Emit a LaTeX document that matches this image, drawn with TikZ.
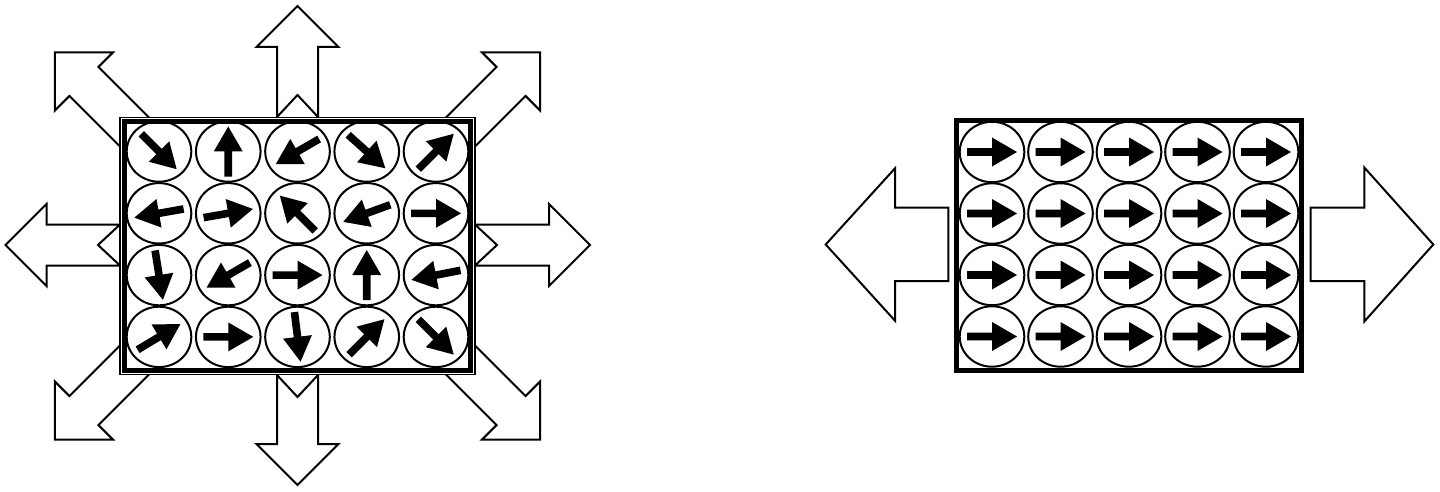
\documentclass[tikz,border=0pt]{standalone}
\begin{document}
\begin{tikzpicture}[x=1pt,y=-1pt,
  outline/.style={draw=black,line width=2pt,fill=white,line join=miter},
  framebox/.style={draw=black,line width=5pt,fill=white},
  thinframe/.style={draw=black,line width=1.4pt,fill=white},
  cell/.style={draw=black,line width=2pt},
  spin/.style={fill=black},
  pics/swallow/.style={code={
     \path[outline] (0,20.5) -- (22,0) -- (0,-20.5) -- (#1-41,-20.5) -- (#1-41,-41)
        -- (#1,0) -- (#1-41,41) -- (#1-41,20.5) -- cycle;}},
  pics/spinarrow/.style={code={
     \path[spin] (-25,3.8) -- (0,3.8) -- (0,14.5) -- (25,0) -- (0,-14.5) -- (0,-3.8)
        -- (-25,-3.8) -- cycle;}}
]
\useasboundingbox (0,0) rectangle (1440,492);

% ---------- left panel: big outlined arrows ----------
\pic (up)    [rotate=90]   at (297.5,117) {swallow=111};
\pic (down)  [rotate=-90]  at (297.5,375) {swallow=110};
\pic (left)  [rotate=180]  at (120,245)   {swallow=114.5};
\pic (right) [rotate=0]    at (475,245)   {swallow=115};
\pic (ul)    [rotate=135]  at (139.8,137.3) {swallow=120};
\pic (ur)    [rotate=45]   at (455.2,137.3) {swallow=120};
\pic (dl)    [rotate=-135] at (139.8,354.7) {swallow=120};
\pic (dr)    [rotate=-45]  at (455.2,354.7) {swallow=120};

% frames
\path[thinframe] (120,117.5) rectangle (475,374.5);
\path[framebox] (124.5,121.5) rectangle (470,370);

% cells with random spins
\foreach \a [count=\k from 0] in {-45,90,210,-42,45, 190,10,135,200,0, -81,210,0,90,191, 31,0,-83,45,-45} {
  \pgfmathtruncatemacro\c{mod(\k,5)}
  \pgfmathtruncatemacro\r{div(\k,5)}
  \coordinate (L\r\c) at ({159+69.25*\c},{151.5+61.8*\r});
  \draw[cell] (L\r\c) ellipse [x radius=32.3, y radius=30.2];
  \pic (sL\r\c) [rotate=\a] at (L\r\c) {spinarrow};
}

% ---------- right panel ----------
\draw[outline] (948.3,207.7) -- (895,207.7) -- (895,168.3) -- (825.7,244.5)
  -- (895,320.7) -- (895,281) -- (948.3,281) -- cycle;
\draw[outline] (1310.7,207.7) -- (1364.3,207.7) -- (1364.3,167.5) -- (1433.3,244.5)
  -- (1364.3,321.5) -- (1364.3,281) -- (1310.7,281) -- cycle;

\path[framebox] (956,121) rectangle (1301.5,370);

\foreach \r in {0,...,3} {
  \foreach \c in {0,...,4} {
    \coordinate (R\r\c) at ({992+68.5*\c},{152+61.5*\r});
    \draw[cell] (R\r\c) ellipse [x radius=32.3, y radius=30.2];
    \pic (sR\r\c) at (R\r\c) {spinarrow};
  }
}
\end{tikzpicture}
\end{document}
